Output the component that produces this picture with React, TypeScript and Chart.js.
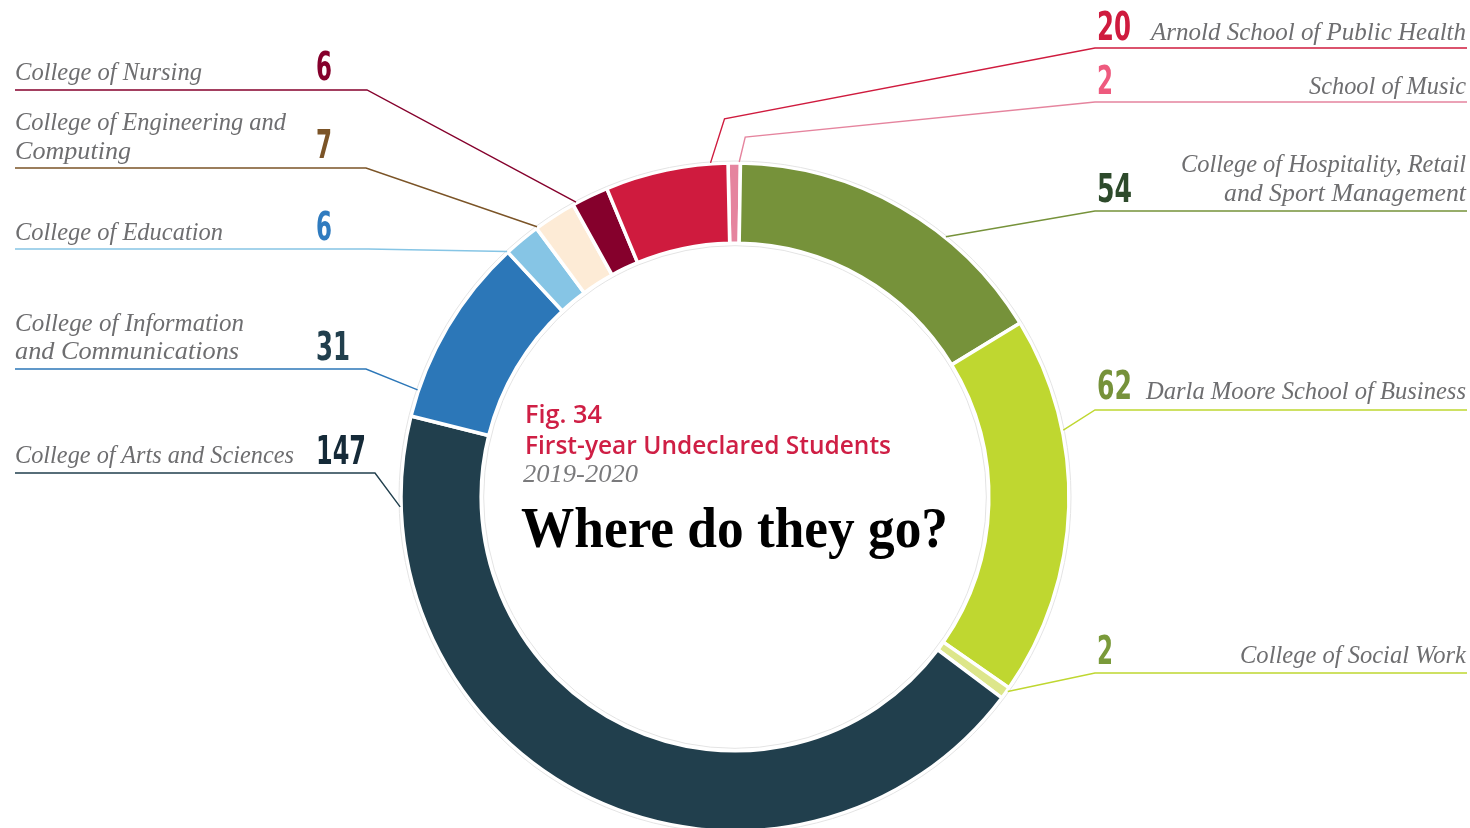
import React, { useEffect, useRef } from 'react';
import { Chart, registerables } from 'chart.js';

Chart.register(...registerables);

// ---------- data ----------
const categories = [
  'School of Music',
  'College of Hospitality, Retail and Sport Management',
  'Darla Moore School of Business',
  'College of Social Work',
  'College of Arts and Sciences',
  'College of Information and Communications',
  'College of Education',
  'College of Engineering and Computing',
  'College of Nursing',
  'Arnold School of Public Health',
];
const students = [2, 54, 62, 2, 147, 31, 6, 7, 6, 20];
const labelLines = [
  ['School of Music'],
  ['College of Hospitality, Retail', 'and Sport Management'],
  ['Darla Moore School of Business'],
  ['College of Social Work'],
  ['College of Arts and Sciences'],
  ['College of Information', 'and Communications'],
  ['College of Education'],
  ['College of Engineering and', 'Computing'],
  ['College of Nursing'],
  ['Arnold School of Public Health'],
];
const titleFig = 'Fig. 34';
const titleMain = 'First-year Undeclared Students';
const titleYears = '2019-2020';
const headline = 'Where do they go?';

// ---------- styles ----------
const sliceColors = ['#e5849e', '#76923a', '#bfd730', '#dde68a', '#213f4d', '#2c77b8', '#86c5e5', '#fdebd6', '#85002c', '#cf1b3e'];
const numberColors = ['#ee5a7e', '#2d4a2b', '#76923a', '#7a9a3a', '#152a38', '#213f4d', '#2f7bbf', '#7b5427', '#85002c', '#cf1b3e'];
const lineColors = ['#e5849e', '#76923a', '#bfd730', '#bfd730', '#213f4d', '#2c77b8', '#86c5e5', '#7b5427', '#85002c', '#cf1b3e'];

type Layout = {
  side: 'left' | 'right';
  textY: number[];
  widths: number[];
  numY: number;
  numW: number;
  lineY: number;
  knee: number;
  frac: number;
  bend?: [number, number];
};

const LAYOUT: Layout[] = [
  { side: 'right', textY: [94], widths: [157], numY: 94, numW: 16, lineY: 102, knee: 1095, frac: 0.9, bend: [6, -25] },
  { side: 'right', textY: [172, 201], widths: [285, 242], numY: 202, numW: 35, lineY: 211, knee: 1095, frac: 0.66 },
  { side: 'right', textY: [399], widths: [320], numY: 399, numW: 35, lineY: 410, knee: 1095, frac: 0.3 },
  { side: 'right', textY: [663], widths: [226], numY: 664, numW: 16, lineY: 673, knee: 1095, frac: 0.3 },
  { side: 'left', textY: [463], widths: [279], numY: 464, numW: 50, lineY: 473, knee: 375, frac: 0.9 },
  { side: 'left', textY: [331, 359], widths: [229, 224], numY: 360, numW: 34, lineY: 369, knee: 366, frac: 0.14 },
  { side: 'left', textY: [240], widths: [208], numY: 240, numW: 16, lineY: 249, knee: 368, frac: 0.0 },
  { side: 'left', textY: [130, 159], widths: [271, 116], numY: 158, numW: 16, lineY: 168, knee: 366, frac: 0.03 },
  { side: 'left', textY: [80], widths: [187], numY: 80, numW: 16, lineY: 90, knee: 367, frac: 0.1 },
  { side: 'right', textY: [40], widths: [315], numY: 40, numW: 34, lineY: 48, knee: 1095, frac: 0.86, bend: [14, -44] },
];

const LEFT_X = 15;
const RIGHT_X = 1466;
const LEFT_NUM_X = 316;
const RIGHT_NUM_X = 1097;

const leaderPlugin = {
  id: 'leaders',
  afterDatasetsDraw(chart: any) {
    const ctx = chart.ctx as CanvasRenderingContext2D;
    const meta = chart.getDatasetMeta(0);
    if (!meta.data.length) return;
    const { x, y, outerRadius, innerRadius } = meta.data[0].getProps(['x', 'y', 'outerRadius', 'innerRadius'], true);
    ctx.save();
    ctx.strokeStyle = '#e4e4e4';
    ctx.lineWidth = 1;
    ctx.beginPath();
    ctx.arc(x, y, outerRadius + 2, 0, Math.PI * 2);
    ctx.stroke();
    ctx.beginPath();
    ctx.arc(x, y, innerRadius - 2.5, 0, Math.PI * 2);
    ctx.stroke();

    LAYOUT.forEach((L, i) => {
      const a = meta.data[i].getProps(['startAngle', 'endAngle'], true);
      const ang = a.startAngle + L.frac * (a.endAngle - a.startAngle);
      const ax = x + Math.cos(ang) * (outerRadius + 1);
      const ay = y + Math.sin(ang) * (outerRadius + 1);
      ctx.strokeStyle = lineColors[i];
      ctx.lineWidth = 1.4;
      ctx.lineJoin = 'miter';
      ctx.beginPath();
      ctx.moveTo(L.side === 'left' ? LEFT_X : RIGHT_X + 1, L.lineY);
      ctx.lineTo(L.knee, L.lineY);
      if (L.bend) ctx.lineTo(ax + L.bend[0], ay + L.bend[1]);
      ctx.lineTo(ax, ay);
      ctx.stroke();
    });
    ctx.restore();
  },
};

const labelFont = '"Liberation Serif", "Times New Roman", serif';
const numFont = '"Liberation Sans Narrow", "DejaVu Sans Condensed", "Arial Narrow", sans-serif';

export default function App() {
  const ref = useRef<HTMLCanvasElement>(null);

  useEffect(() => {
    document.body.style.margin = '0';
    const chart = new Chart(ref.current!, {
      type: 'doughnut',
      data: {
        labels: categories,
        datasets: [
          {
            data: students,
            backgroundColor: sliceColors,
            borderColor: '#ffffff',
            borderWidth: 3.5,
            hoverOffset: 0,
          },
        ],
      },
      options: {
        responsive: false,
        animation: false,
        rotation: -1.2,
        radius: 334,
        cutout: '76%',
        layout: { padding: { top: 166, bottom: 0, left: 0, right: 0 } },
        plugins: { legend: { display: false }, tooltip: { enabled: false } },
        events: [],
      },
      plugins: [leaderPlugin],
    } as any);
    return () => chart.destroy();
  }, []);

  return (
    <div style={{ position: 'relative', width: 1470, height: 828, overflow: 'hidden', background: '#ffffff' }}>
      <canvas ref={ref} width={1470} height={828} style={{ position: 'absolute', left: 0, top: 0 }} />
      <svg width={1470} height={828} style={{ position: 'absolute', left: 0, top: 0, pointerEvents: 'none' }}>
        {LAYOUT.map((L, i) => (
          <g key={i}>
            {labelLines[i].map((line, j) => (
              <text
                key={j}
                x={L.side === 'left' ? LEFT_X : RIGHT_X}
                y={L.textY[j]}
                textAnchor={L.side === 'left' ? 'start' : 'end'}
                fontFamily={labelFont}
                fontStyle="italic"
                fontSize={25}
                fill="#6e6e70"
                textLength={L.widths[j]}
                lengthAdjust="spacingAndGlyphs"
              >
                {line}
              </text>
            ))}
            <text
              x={L.side === 'left' ? LEFT_NUM_X : RIGHT_NUM_X}
              y={L.numY}
              fontFamily={numFont}
              fontWeight="bold"
              fontSize={39}
              fill={numberColors[i]}
              textLength={L.numW}
              lengthAdjust="spacingAndGlyphs"
            >
              {String(students[i])}
            </text>
          </g>
        ))}
        <text x={525} y={423} fontFamily='"Open Sans", sans-serif' fontWeight={600} fontSize={25} fill="#cf1f45" textLength={77} lengthAdjust="spacingAndGlyphs">
          {titleFig}
        </text>
        <text x={525} y={454} fontFamily='"Open Sans", sans-serif' fontWeight={600} fontSize={25} fill="#cf1f45" textLength={366} lengthAdjust="spacingAndGlyphs">
          {titleMain}
        </text>
        <text x={523} y={482} fontFamily={labelFont} fontStyle="italic" fontSize={25} fill="#7a7a7c" textLength={115} lengthAdjust="spacingAndGlyphs">
          {titleYears}
        </text>
        <text x={521} y={547} fontFamily='"Liberation Serif", serif' fontWeight="bold" fontSize={57} fill="#000000" textLength={427} lengthAdjust="spacingAndGlyphs">
          {headline}
        </text>
      </svg>
    </div>
  );
}
